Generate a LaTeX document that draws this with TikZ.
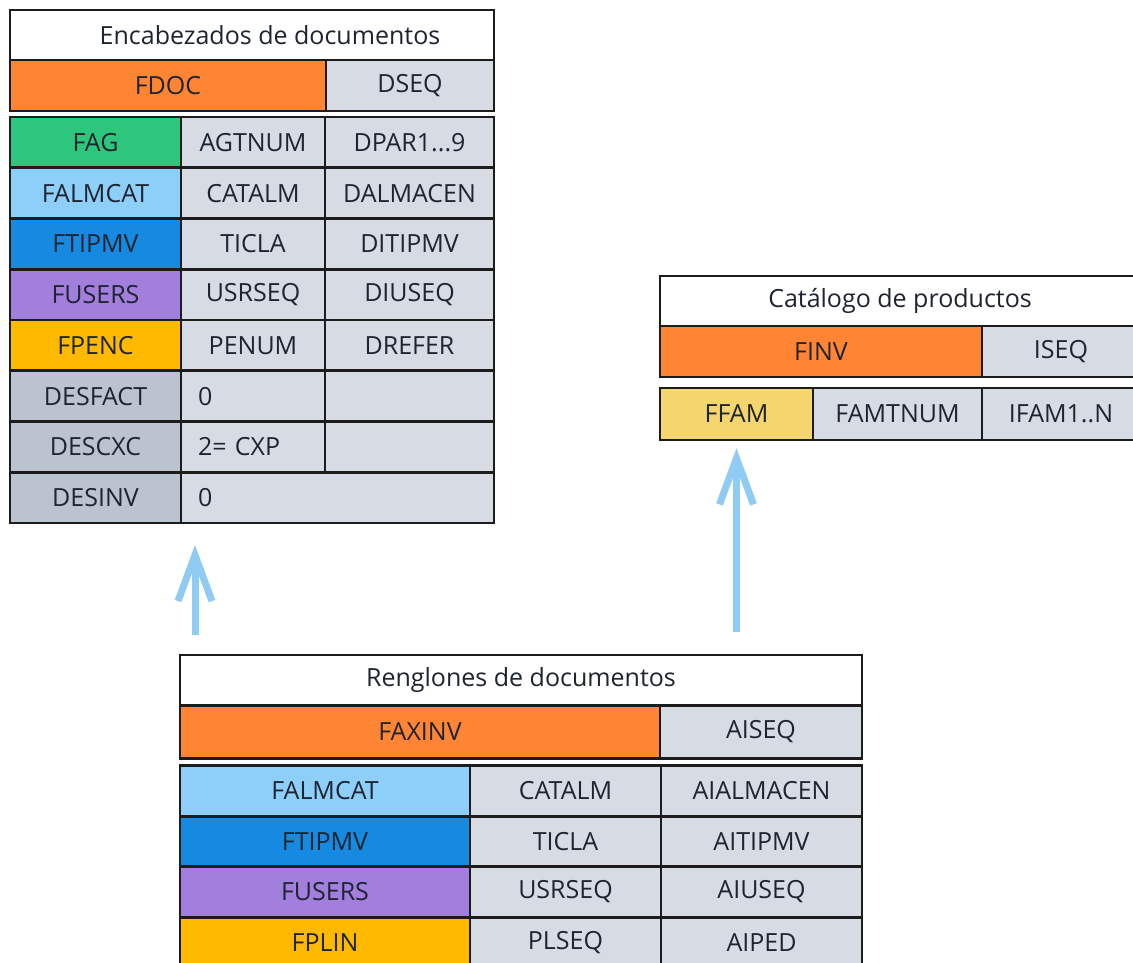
\documentclass[tikz,border=0pt]{standalone}
\usepackage{fontspec}
\setmainfont{Open Sans}
\usepackage{tikz}
\usetikzlibrary{arrows.meta}
\definecolor{naranja}{HTML}{FF8534}
\definecolor{gris}{HTML}{D7DCE4}
\definecolor{grisosc}{HTML}{BAC3CE}
\definecolor{verde}{HTML}{2DC67C}
\definecolor{celeste}{HTML}{8ECFF9}
\definecolor{azul}{HTML}{1689E0}
\definecolor{morado}{HTML}{A27EDD}
\definecolor{ambar}{HTML}{FFBA00}
\definecolor{amarillo}{HTML}{F5D56E}
\definecolor{flechaazul}{HTML}{8FCBF3}
\definecolor{texto}{HTML}{1E2430}
\definecolor{borde}{HTML}{1C1C1C}

\begin{document}
\begin{tikzpicture}[x=1pt,y=-1pt]
	\tikzstyle{celda}=[rectangle,draw=borde,line width=2.6pt,inner sep=0pt,text=texto,font=\fontsize{25}{29}\selectfont,fill=gris]
	\tikzstyle{titulo}=[celda,fill=white,minimum height=50pt]
	\tikzstyle{valor}=[celda,align=left,inner xsep=17pt]
	\tikzstyle{flecha}=[draw=flechaazul,line width=7pt,-{Straight Barb[length=46pt,width=34pt]}]
	\useasboundingbox (0,0) rectangle (1133,963);
	\clip (0,0) rectangle (1133,963);
	% Encabezados de documentos
	\node[titulo,minimum width=484pt](enc) at (252,35) {\hspace*{36pt}Encabezados de documentos};
	\node[celda,fill=naranja,minimum width=316pt,minimum height=51pt](fdoc) at (168,85.5) {FDOC};
	\node[celda,minimum width=168pt,minimum height=51pt](dseq) at (410,85.5) {DSEQ};
	\tikzstyle{c1}=[celda,minimum width=171pt,minimum height=50.75pt]
	\tikzstyle{c2}=[celda,minimum width=144pt,minimum height=50.75pt]
	\tikzstyle{c3}=[celda,minimum width=169pt,minimum height=50.75pt]
	\node[c1,fill=verde](fag) at (95.5,142.4) {FAG};
	\node[c2](agtnum) at (253,142.4) {AGTNUM};
	\node[c3](dpar) at (409.5,142.4) {DPAR1...9};
	\node[c1,fill=celeste](falmcat) at (95.5,193.1) {FALMCAT};
	\node[c2](catalm) at (253,193.1) {CATALM};
	\node[c3](dalmacen) at (409.5,193.1) {DALMACEN};
	\node[c1,fill=azul](ftipmv) at (95.5,243.9) {FTIPMV};
	\node[c2](ticla) at (253,243.9) {TICLA};
	\node[c3](ditipmv) at (409.5,243.9) {DITIPMV};
	\node[c1,fill=morado](fusers) at (95.5,294.6) {FUSERS};
	\node[c2](usrseq) at (253,294.6) {USRSEQ};
	\node[c3](diuseq) at (409.5,294.6) {DIUSEQ};
	\node[c1,fill=ambar](fpenc) at (95.5,345.4) {FPENC};
	\node[c2](penum) at (253,345.4) {PENUM};
	\node[c3](drefer) at (409.5,345.4) {DREFER};
	\node[c1,fill=grisosc](desfact) at (95.5,396.1) {DESFACT};
	\node[valor,minimum height=50.75pt,text width=110pt](vfact) at (253,396.1) {0};
	\node[c3](vacio1) at (409.5,396.1) {};
	\node[c1,fill=grisosc](descxc) at (95.5,446.9) {DESCXC};
	\node[valor,minimum height=50.75pt,text width=110pt](vcxc) at (253,446.9) {2= CXP};
	\node[c3](vacio2) at (409.5,446.9) {};
	\node[c1,fill=grisosc](desinv) at (95.5,497.6) {DESINV};
	\node[valor,minimum height=50.75pt,text width=279pt](vinv) at (337.5,497.6) {0};
	% Catalogo de productos
	\node[titulo,minimum width=480pt](cat) at (900,301) {Catálogo de productos};
	\node[celda,fill=naranja,minimum width=322pt,minimum height=51pt](finv) at (821,351.5) {FINV};
	\node[celda,minimum width=158pt,minimum height=51pt](iseq) at (1061,351.5) {ISEQ};
	\node[celda,fill=amarillo,minimum width=153pt,minimum height=52pt](ffam) at (736.5,414) {FFAM};
	\node[celda,minimum width=169pt,minimum height=52pt](famtnum) at (897.5,414) {FAMTNUM};
	\node[celda,minimum width=158pt,minimum height=52pt](ifam) at (1061,414) {IFAM1..N};
	% Renglones de documentos
	\node[titulo,minimum width=682pt](ren) at (521,680) {Renglones de documentos};
	\node[celda,fill=naranja,minimum width=480pt,minimum height=53pt](faxinv) at (420,732) {FAXINV};
	\node[celda,minimum width=202pt,minimum height=53pt](aiseq) at (761,732) {AISEQ};
	\tikzstyle{r1}=[celda,minimum width=290pt,minimum height=50.5pt]
	\tikzstyle{r2}=[celda,minimum width=191pt,minimum height=50.5pt]
	\tikzstyle{r3}=[celda,minimum width=201pt,minimum height=50.5pt]
	\node[r1,fill=celeste](rfalmcat) at (325,791) {FALMCAT};
	\node[r2](rcatalm) at (565.5,791) {CATALM};
	\node[r3](aialmacen) at (761.5,791) {AIALMACEN};
	\node[r1,fill=azul](rftipmv) at (325,841.5) {FTIPMV};
	\node[r2](rticla) at (565.5,841.5) {TICLA};
	\node[r3](aitipmv) at (761.5,841.5) {AITIPMV};
	\node[r1,fill=morado](rfusers) at (325,892) {FUSERS};
	\node[r2](rusrseq) at (565.5,892) {USRSEQ};
	\node[r3](aiuseq) at (761.5,892) {AIUSEQ};
	\node[r1,fill=ambar](fplin) at (325,942.5) {FPLIN};
	\node[r2](plseq) at (565.5,942.5) {PLSEQ};
	\node[r3](aiped) at (761.5,942.5) {AIPED};
	% flechas
	\coordinate (f1a) at (195,635);
	\coordinate (f1b) at (195,545);
	\coordinate (f2a) at (ffam.south |- 0,632);
	\draw[flecha] (f1a) -- (f1b);
	\draw[flecha,shorten >=7pt] (f2a) -- (ffam.south);
\end{tikzpicture}
\end{document}
